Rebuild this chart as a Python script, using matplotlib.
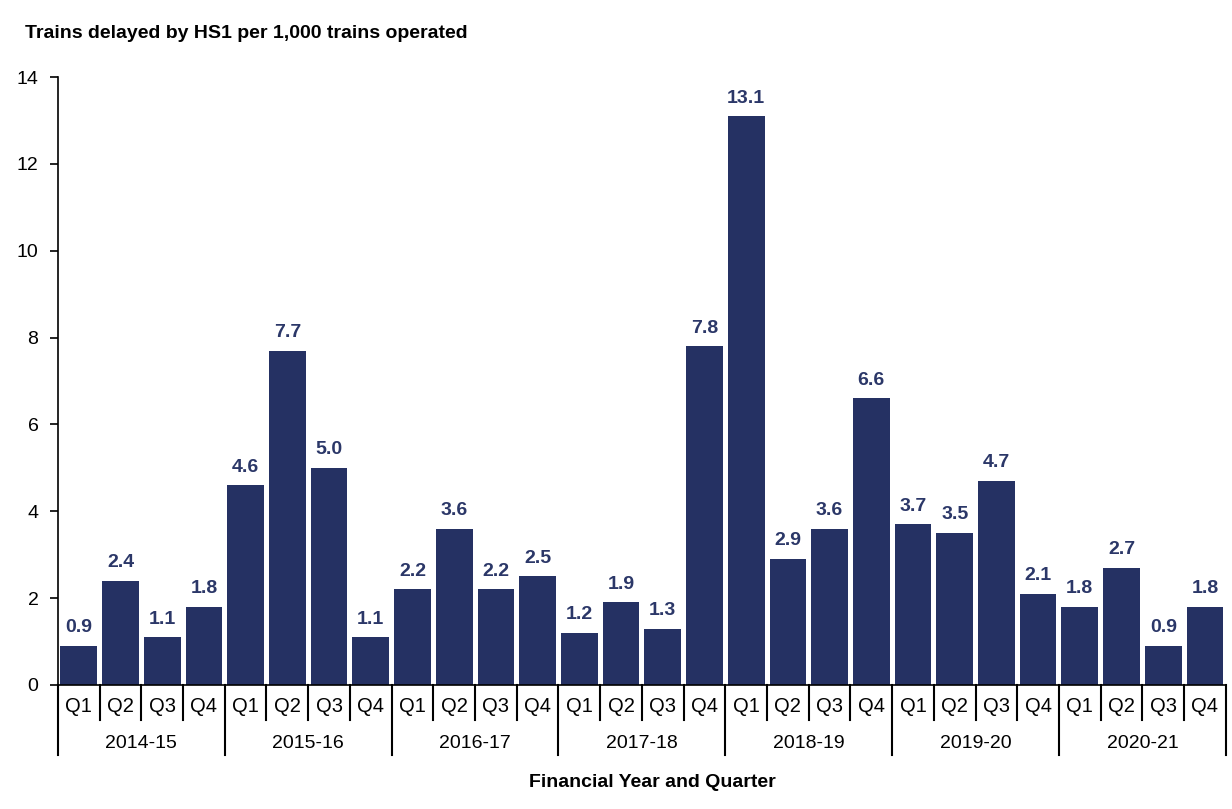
import numpy as np
import matplotlib.pyplot as plt
from matplotlib.transforms import blended_transform_factory

plt.rcParams['font.family'] = ['Liberation Sans', 'DejaVu Sans']

# Datos
years = ['2014-15', '2015-16', '2016-17', '2017-18', '2018-19', '2019-20', '2020-21']
quarters = ['Q1', 'Q2', 'Q3', 'Q4']
delays = [0.9, 2.4, 1.1, 1.8,
          4.6, 7.7, 5.0, 1.1,
          2.2, 3.6, 2.2, 2.5,
          1.2, 1.9, 1.3, 7.8,
          13.1, 2.9, 3.6, 6.6,
          3.7, 3.5, 4.7, 2.1,
          1.8, 2.7, 0.9, 1.8]

BAR_COLOR = '#253163'
LABEL_COLOR = '#2b3768'

n = len(delays)
x = np.arange(n)

fig = plt.figure(figsize=(12.32, 8.09), dpi=100)
ax = fig.add_axes([0.047, 0.1533, 0.948, 0.7515])

ax.bar(x, delays, width=0.88, color=BAR_COLOR)
for xi, v in zip(x, delays):
    ax.text(xi, v + 0.22, f'{v:.1f}', ha='center', va='bottom',
            fontsize=14, fontweight='bold', color=LABEL_COLOR)

ax.set_xlim(-0.5, n - 0.5)
ax.set_ylim(0, 14)
ax.set_yticks(range(0, 15, 2))
ax.tick_params(axis='y', labelsize=14, length=6, width=1.2, pad=8)
ax.set_xticks([])
for s in ['top', 'right']:
    ax.spines[s].set_visible(False)
ax.spines['left'].set_linewidth(1.2)
ax.spines['bottom'].set_linewidth(1.2)

# ejes de dos niveles: trimestres y anios
trans = blended_transform_factory(ax.transData, ax.transAxes)
for i in range(n + 1):
    pos = i - 0.5
    bottom = -0.115 if i % 4 == 0 else -0.0576
    ax.plot([pos, pos], [0, bottom], color='black', lw=1.5,
            transform=trans, clip_on=False)
for i in range(n):
    ax.text(i, -0.036, quarters[i % 4], ha='center', va='center',
            fontsize=14.5, transform=trans)
for j, yr in enumerate(years):
    ax.text(j * 4 + 1.5, -0.097, yr, ha='center', va='center',
            fontsize=14, transform=trans)

ax.text(0.5086, -0.161, 'Financial Year and Quarter', ha='center', va='center',
        fontsize=14, fontweight='bold', transform=ax.transAxes)
fig.text(25 / 1232, 1 - 33 / 809, 'Trains delayed by HS1 per 1,000 trains operated',
         ha='left', va='center', fontsize=14, fontweight='bold')

plt.savefig('out.png', dpi=100)
